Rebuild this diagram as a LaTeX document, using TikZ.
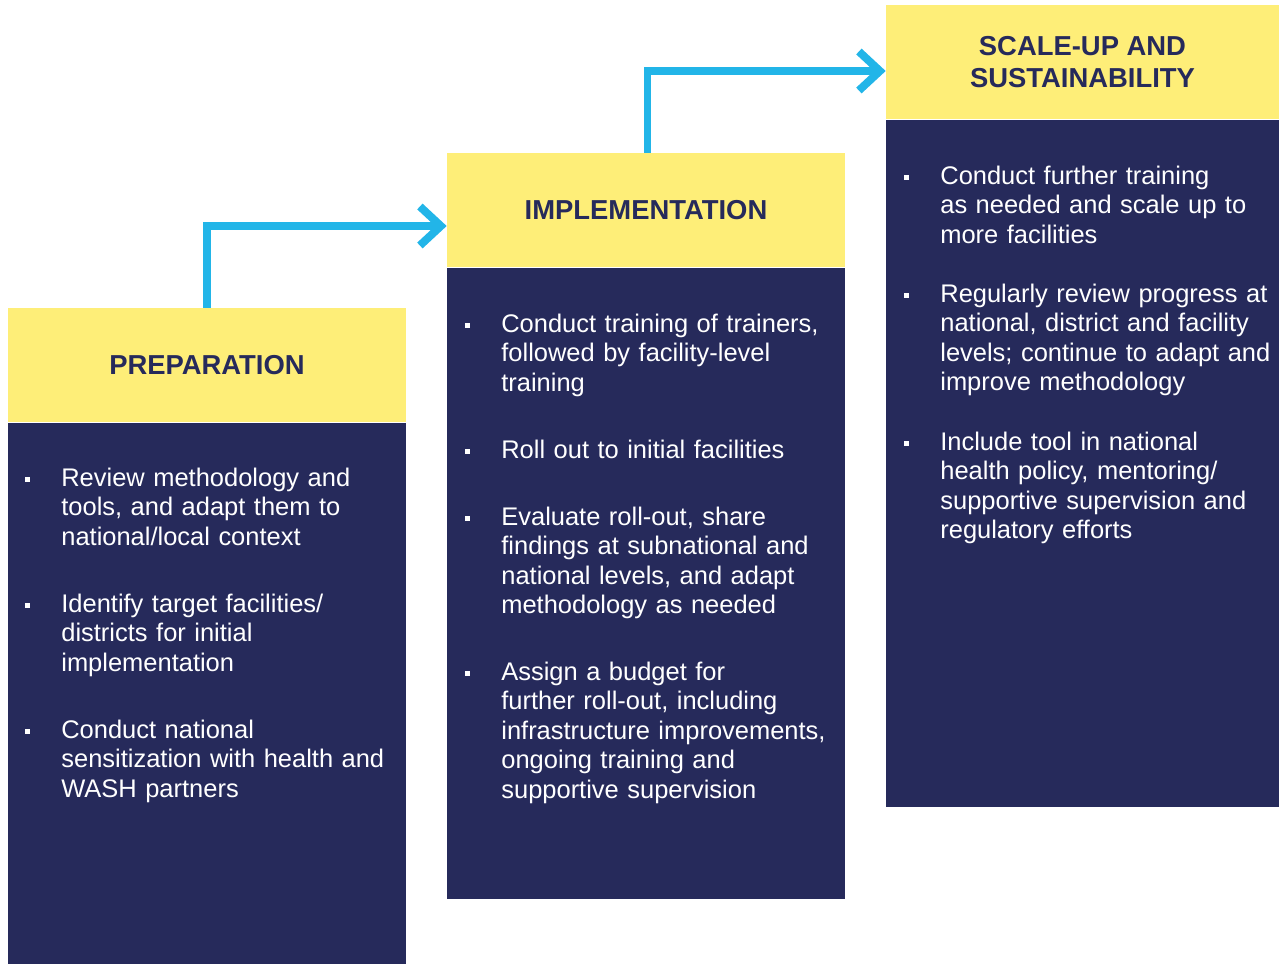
\documentclass[tikz,border=0pt]{standalone}
\usepackage{fontspec}
\setmainfont{Liberation Sans}
\usepackage{tikz}
\usetikzlibrary{arrows.meta,positioning,calc}
\usepackage{xcolor}
\definecolor{phaseyellow}{HTML}{FEEE78}
\definecolor{phasenavy}{HTML}{262A5B}
\definecolor{flowcyan}{HTML}{22B5E8}

\begin{document}
\begin{tikzpicture}[
    x=0.02cm, y=-0.02cm,
    head/.style={rectangle, fill=phaseyellow, text=phasenavy, font=\fontsize{15.6}{18}\selectfont\bfseries, align=center, minimum width=7.96cm, minimum height=2.28cm, inner sep=0pt},
    body/.style={rectangle, fill=phasenavy, minimum width=7.96cm, inner sep=0pt},
    itemtext/.style={text=white, font=\fontsize{14.5}{16.8}\selectfont, text width=7cm, align=left, inner sep=0pt, anchor=base west},
    bulletmark/.style={rectangle, fill=white, minimum size=0.1cm, inner sep=0pt},
    flow/.style={draw=flowcyan, line width=4.5pt, -{Straight Barb[length=0.42cm, width=0.78cm]}},
    node distance=0cm
]
    \useasboundingbox (0,0) rectangle (1279,964);

    % Phase headers
    \node[head] (prephead) at (207,365) {PREPARATION};
    \node[head] (implhead) at (646,210) {IMPLEMENTATION};
    \node[head, minimum width=7.86cm] (scalehead) at (1082.5,62) {SCALE-UP AND\\SUSTAINABILITY};

    % Phase bodies
    \node[body, minimum height=10.84cm, below=of prephead] (prepbody) {};
    \node[body, minimum height=12.62cm, below=of implhead] (implbody) {};
    \node[body, minimum width=7.86cm, minimum height=13.74cm, below=of scalehead] (scalebody) {};

    % Preparation items
    \node[itemtext] (prep1) at (61,486) {Review methodology and\\tools, and adapt them to\\national/local context};
    \node[itemtext] (prep2) at (61,612) {Identify target facilities/\\districts for initial\\implementation};
    \node[itemtext] (prep3) at (61,738) {Conduct national\\sensitization with health and\\WASH partners};

    % Implementation items
    \node[itemtext] (impl1) at (501,332) {Conduct training of trainers,\\followed by facility-level\\training};
    \node[itemtext] (impl2) at (501,458) {Roll out to initial facilities};
    \node[itemtext] (impl3) at (501,525) {Evaluate roll-out, share\\findings at subnational and\\national levels, and adapt\\methodology as needed};
    \node[itemtext] (impl4) at (501,680) {Assign a budget for\\further roll-out, including\\infrastructure improvements,\\ongoing training and\\supportive supervision};

    % Scale-up items
    \node[itemtext] (scale1) at (940,184) {Conduct further training\\as needed and scale up to\\more facilities};
    \node[itemtext] (scale2) at (940,302) {Regularly review progress at\\national, district and facility\\levels; continue to adapt and\\improve methodology};
    \node[itemtext] (scale3) at (940,450) {Include tool in national\\health policy, mentoring/\\supportive supervision and\\regulatory efforts};

    % Bullets
    \foreach \i in {prep1,prep2,prep3,impl1,impl2,impl3,impl4,scale1,scale2,scale3}
        \node[bulletmark] (b-\i) at ($(\i.base west)+(-33.5,-7)$) {};

    % Flow arrows
    \draw[flow] (prephead.north) |- ([yshift=-0.32cm]implhead.west);
    \draw[flow] ([xshift=0.03cm]implhead.north) |- ([yshift=-0.18cm]scalehead.west);

\end{tikzpicture}
\end{document}
